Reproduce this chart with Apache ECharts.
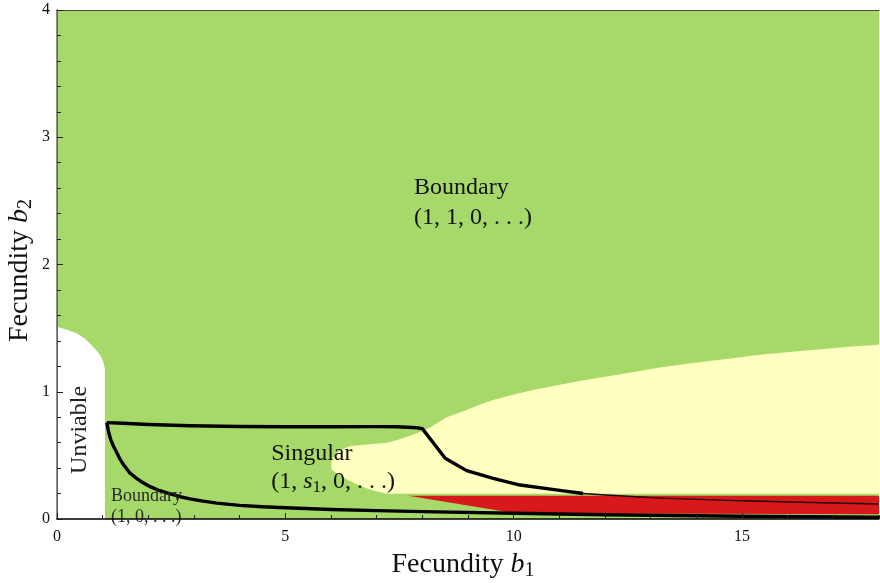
<!DOCTYPE html>
<html>
<head>
<meta charset="utf-8">
<script src="https://cdn.jsdelivr.net/npm/echarts@6/dist/echarts.min.js"></script>
<style>
  html, body { margin: 0; padding: 0; background: #fff; }
  #chart { width: 880px; height: 583px; }
</style>
</head>
<body>
<div id="chart"></div>
<script>
// Regions of the (b1, b2) fecundity plane, as [b1, b2] vertices
const viableRegion = [
  [1.05, 0], [18, 0], [18, 4], [0, 4], [0, 1.51],
  [0.2, 1.49], [0.43, 1.46], [0.6, 1.42], [0.72, 1.38], [0.85, 1.33],
  [0.94, 1.29], [1.01, 1.24], [1.05, 1.18]
];
const singularRegion = [
  [6.01, 0.464], [6.20, 0.542], [6.42, 0.574], [6.85, 0.587], [7.22, 0.600],
  [7.51, 0.626], [7.88, 0.673], [8.17, 0.720], [8.53, 0.800], [8.97, 0.857],
  [9.25, 0.898], [9.55, 0.935], [10.07, 0.985], [10.5, 1.02], [11.01, 1.055],
  [11.5, 1.088], [12.0, 1.118], [12.47, 1.145], [13.2, 1.19], [13.93, 1.225],
  [14.7, 1.26], [15.39, 1.29], [16.1, 1.315], [16.85, 1.338], [17.4, 1.355],
  [18, 1.37],
  [18, 0.198], [7.22, 0.198], [6.9, 0.225], [6.63, 0.262], [6.40, 0.30],
  [6.20, 0.343], [6.08, 0.37], [6.01, 0.39]
];
const redRegion = [
  [7.69, 0.183], [18, 0.183], [18, 0.037], [14, 0.041], [10.0, 0.048]
];

// Boundary curves
const upperCurve = [
  [1.09, 0.757], [1.45, 0.752], [2.0, 0.743], [2.91, 0.733], [4.0, 0.727],
  [5.0, 0.725], [6.0, 0.725], [7.0, 0.726], [7.44, 0.725], [7.88, 0.717],
  [8.0, 0.71], [8.50, 0.477], [8.97, 0.38], [9.55, 0.32], [10.14, 0.267],
  [11.01, 0.225], [11.52, 0.20]
];
const upperCurveTail = [
  [11.52, 0.200], [13.0, 0.168], [15.0, 0.144], [18.0, 0.118]
];
const lowerCurve = [
  [1.09, 0.757], [1.11, 0.72], [1.14, 0.67], [1.18, 0.62], [1.24, 0.57],
  [1.31, 0.52], [1.38, 0.47], [1.47, 0.42], [1.6, 0.36], [1.72, 0.325],
  [1.86, 0.29], [2.04, 0.254], [2.25, 0.222], [2.5, 0.195], [2.7, 0.175],
  [2.91, 0.158], [3.2, 0.14], [3.5, 0.125], [4.0, 0.107], [4.5, 0.096],
  [5.0, 0.088], [6.0, 0.075], [7.0, 0.066], [8.0, 0.058], [10.0, 0.045],
  [12.0, 0.033], [15.0, 0.022], [18.0, 0.014]
];

// Axis ticks
const xTicks = [0, 5, 10, 15];
const yTicks = [0, 1, 2, 3, 4];

const FONT = "'Liberation Serif', 'DejaVu Serif', serif";
const INK = '#111';

const regionList = [
  { pts: viableRegion, color: '#a6d96a' },
  { pts: singularRegion, color: '#ffffbf' },
  { pts: redRegion, color: '#d7191c' }
];

const chart = echarts.init(document.getElementById('chart'));

const mathRich = {
  t: { fontFamily: FONT, fontSize: 24, color: INK },
  i: { fontFamily: FONT, fontSize: 24, fontStyle: 'italic', color: INK },
  sub: { fontFamily: FONT, fontSize: 17, color: INK, padding: [10, 0, 0, 0] }
};
const smallRich = {
  t: { fontFamily: FONT, fontSize: 18, color: '#2a2a2a' }
};
const nameRich = {
  t: { fontFamily: FONT, fontSize: 28, color: INK },
  i: { fontFamily: FONT, fontSize: 28, fontStyle: 'italic', color: INK },
  sub: { fontFamily: FONT, fontSize: 20, color: INK, padding: [12, 0, 0, 0] }
};

const option = {
  animation: false,
  backgroundColor: '#ffffff',
  grid: {
    left: 57, right: 1, top: 10, bottom: 64,
    containLabel: false, outerBoundsMode: 'none'
  },
  xAxis: [
    {
      type: 'value', min: 0, max: 18, interval: 5, position: 'bottom', z: 10,
      name: '{t|Fecundity }{i|b}{sub|1}',
      nameLocation: 'middle', nameGap: 30, nameMoveOverlap: false,
      nameTextStyle: { rich: nameRich, padding: [0, 10, 0, 0] },
      axisLine: { show: true, lineStyle: { color: '#000', width: 1.5 } },
      axisTick: { show: true, inside: true, length: 6, lineStyle: { color: '#222', width: 1 } },
      axisLabel: {
        show: true, margin: 10, fontFamily: FONT, fontSize: 16, color: INK,
        showMaxLabel: false,
        formatter: v => (xTicks.indexOf(v) >= 0 ? String(v) : '')
      },
      splitLine: { show: false }
    },
    {
      // minor ticks every unit along b1
      type: 'value', min: 0, max: 18, interval: 1, position: 'bottom', z: 10,
      axisLine: { show: false },
      axisTick: { show: true, inside: true, length: 4, lineStyle: { color: '#222', width: 1 } },
      axisLabel: { show: false },
      splitLine: { show: false }
    },
    {
      type: 'value', min: 0, max: 18, position: 'top', z: 10,
      axisLine: { show: true, lineStyle: { color: '#444', width: 1 } },
      axisTick: { show: false }, axisLabel: { show: false }, splitLine: { show: false }
    }
  ],
  yAxis: [
    {
      type: 'value', min: 0, max: 4, interval: 1, position: 'left', z: 10,
      name: '{t|Fecundity }{i|b}{sub|2}',
      nameLocation: 'middle', nameGap: 21, nameRotate: 90, nameMoveOverlap: false,
      nameTextStyle: { rich: nameRich, padding: [0, 12, 0, 0] },
      axisLine: { show: true, lineStyle: { color: '#666', width: 1.5 } },
      axisTick: { show: true, inside: true, length: 6, lineStyle: { color: '#222', width: 1 } },
      minorTick: { show: true, splitNumber: 5, length: 4, lineStyle: { color: '#222', width: 1 } },
      axisLabel: {
        show: true, margin: 7, fontFamily: FONT, fontSize: 16, color: INK,
        formatter: v => (yTicks.indexOf(v) >= 0 ? String(v) : '')
      },
      splitLine: { show: false },
      minorSplitLine: { show: false }
    },
    {
      type: 'value', min: 0, max: 4, position: 'right', z: 10,
      axisLine: { show: true, lineStyle: { color: '#666', width: 1 } },
      axisTick: { show: false }, axisLabel: { show: false }, splitLine: { show: false }
    }
  ],
  series: [
    {
      name: 'regions',
      type: 'custom',
      xAxisIndex: 0, yAxisIndex: 0,
      clip: true,
      z: 1,
      data: regionList.map((r, i) => [i]),
      encode: { x: -1, y: -1 },
      renderItem: function (params, api) {
        const region = regionList[params.dataIndex];
        return {
          type: 'polygon',
          shape: { points: region.pts.map(p => api.coord(p)) },
          style: { fill: region.color, stroke: null }
        };
      }
    },
    {
      name: 'upper boundary',
      type: 'line', xAxisIndex: 0, yAxisIndex: 0, z: 3,
      data: upperCurve, showSymbol: false, symbol: 'none',
      lineStyle: { color: '#000', width: 3.4, join: 'round', cap: 'butt' }
    },
    {
      name: 'upper boundary tail',
      type: 'line', xAxisIndex: 0, yAxisIndex: 0, z: 3,
      data: upperCurveTail, showSymbol: false, symbol: 'none', smooth: 0.3,
      lineStyle: { color: '#200404', width: 1.4 }
    },
    {
      name: 'lower boundary',
      type: 'line', xAxisIndex: 0, yAxisIndex: 0, z: 3,
      data: lowerCurve, showSymbol: false, symbol: 'none',
      lineStyle: { color: '#000', width: 3.4, join: 'round' }
    },
    {
      name: 'labels',
      type: 'scatter', xAxisIndex: 0, yAxisIndex: 0, z: 4,
      symbolSize: 0, silent: true,
      itemStyle: { opacity: 1 },
      data: [
        {
          value: [7.82, 2.483],
          label: {
            show: true, position: 'right', distance: 0, lineHeight: 30,
            formatter: '{t|Boundary}\n{t|(1, 1, 0, . . .)}', rich: mathRich
          }
        },
        {
          value: [4.69, 0.40],
          label: {
            show: true, position: 'right', distance: 0, lineHeight: 28,
            formatter: '{t|Singular}\n{t|(1, }{i|s}{sub|1}{t|, 0, . . .)}', rich: mathRich
          }
        },
        {
          value: [1.18, 0.10],
          label: {
            show: true, position: 'right', distance: 0, lineHeight: 21,
            formatter: '{t|Boundary}\n{t|(1, 0, . . .)}', rich: smallRich
          }
        },
        {
          value: [0.50, 0.70],
          label: {
            show: true, position: 'inside', rotate: 90,
            formatter: '{t|Unviable}',
            rich: { t: { fontFamily: FONT, fontSize: 24, color: '#222' } }
          }
        }
      ]
    }
  ]
};

chart.setOption(option);
</script>
</body>
</html>
